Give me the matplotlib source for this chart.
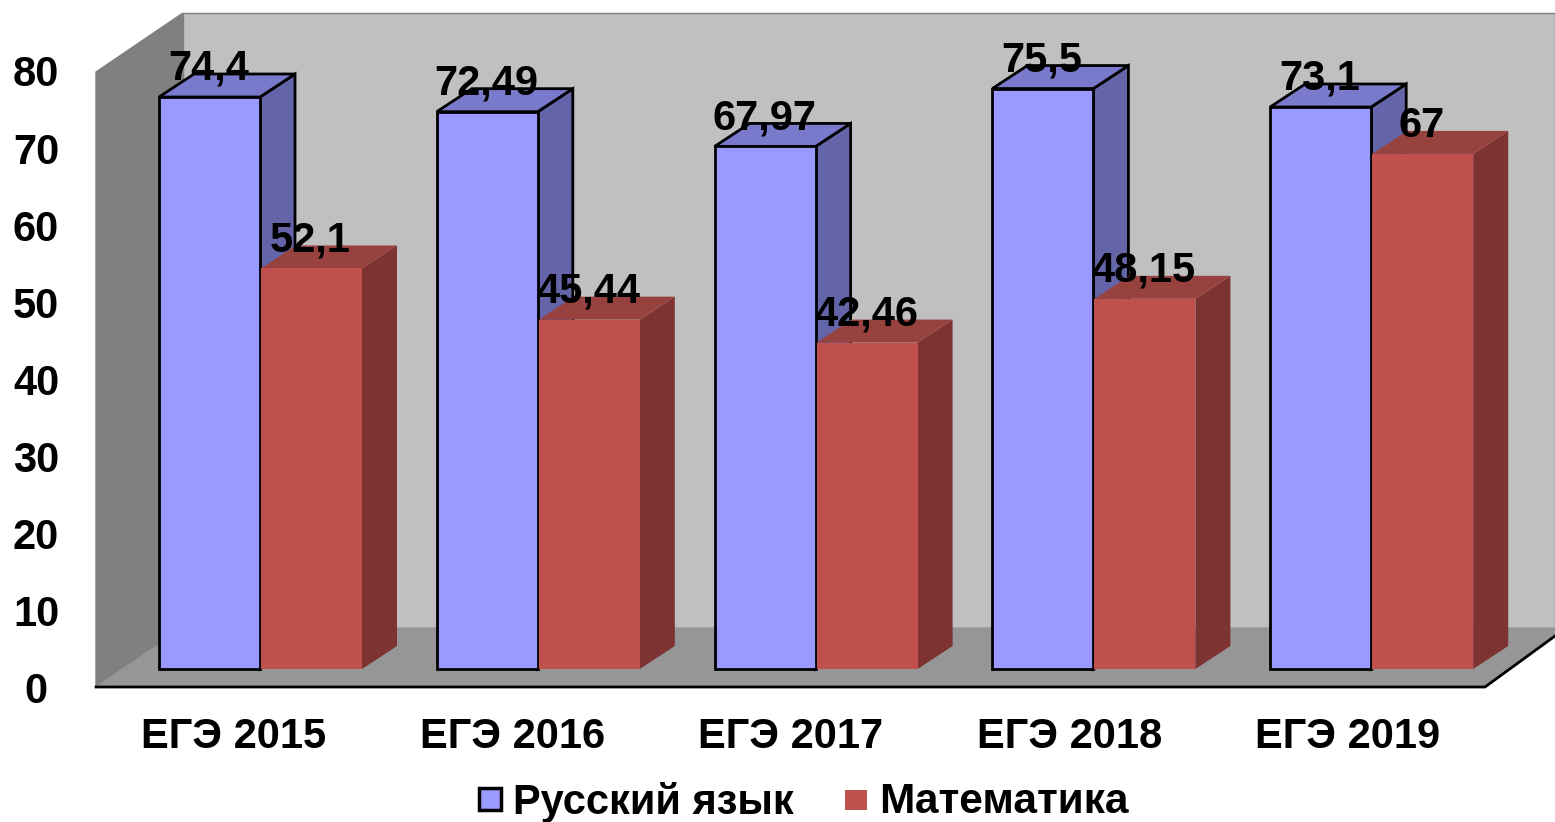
import matplotlib
matplotlib.use("Agg")
import matplotlib.pyplot as plt
from matplotlib.patches import Polygon, Rectangle

categories = ["ЕГЭ 2015", "ЕГЭ 2016", "ЕГЭ 2017", "ЕГЭ 2018", "ЕГЭ 2019"]
russian = [74.4, 72.49, 67.97, 75.5, 73.1]
math_vals = [52.1, 45.44, 42.46, 48.15, 67]
russian_labels = ["74,4", "72,49", "67,97", "75,5", "73,1"]
math_labels = ["52,1", "45,44", "42,46", "48,15", "67"]
yticks = [0, 10, 20, 30, 40, 50, 60, 70, 80]

W, H = 1555, 822
plt.rcParams["font.family"] = ["Liberation Sans", "DejaVu Sans"]
fig = plt.figure(figsize=(W / 100, H / 100), dpi=100)
ax = fig.add_axes([0, 0, 1, 1])
ax.set_xlim(0, W)
ax.set_ylim(H, 0)
ax.axis("off")

# pixel scale: value -> y of the front plane
y0_front = 669
per_unit = (669 - 97) / 74.4
dx, dy = 35, 23
FS = 30


def yv(v):
    return y0_front - v * per_unit


# back wall, side wall, floor
ax.add_patch(Polygon([[183, 13], [1555, 13], [1555, 630], [183, 630]], fc="#c0c0c0", ec="#808080", lw=1))
ax.add_patch(Polygon([[96, 72], [183, 13], [183, 630], [96, 687]], fc="#808080", ec="#808080"))
ax.add_patch(Polygon([[96, 687], [183, 628], [1555, 628], [1555, 635], [1485, 687]], fc="#969696", ec="#969696"))
ax.plot([96, 1485, 1555], [687, 687, 636], color="black", lw=2)

# y ticks
for t in yticks:
    ax.text(36, 691.5 - t * 7.7, str(t), ha="center", va="center", fontsize=FS, fontweight="bold")


def bar3d(x, w, v, front, top, side, edge):
    y = yv(v)
    lw = 2 if edge else 0
    ec = "black" if edge else "none"
    ax.add_patch(Polygon([[x + w, y], [x + w + dx, y - dy], [x + w + dx, y0_front - dy], [x + w, y0_front]],
                         fc=side, ec=ec, lw=lw))
    ax.add_patch(Polygon([[x, y], [x + dx, y - dy], [x + w + dx, y - dy], [x + w, y]], fc=top, ec=ec, lw=lw))
    ax.add_patch(Rectangle((x, y), w, y0_front - y, fc=front, ec=ec, lw=lw))


# bars
w = 101
step = 277.8
for i in range(len(categories)):
    x1 = 159 + i * step
    x2 = x1 + w + 1
    bar3d(x1, w, russian[i], "#9999ff", "#7a7acc", "#6464a8", True)
    bar3d(x2, w, math_vals[i], "#c0504d", "#984240", "#7d3331", False)

# value labels
for i in range(len(categories)):
    x1 = 159 + i * step
    x2 = x1 + w + 1
    ax.text(x1 + w / 2 - 1, yv(russian[i]) - 28, russian_labels[i], ha="center", va="center",
            fontsize=FS, fontweight="bold", zorder=5)
    ax.text(x2 + w / 2 - 1, yv(math_vals[i]) - 28, math_labels[i], ha="center", va="center",
            fontsize=FS, fontweight="bold", zorder=5)
    ax.text(234 + i * 278.5, 737, categories[i], ha="center", va="center", fontsize=FS, fontweight="bold")

# legend
ax.add_patch(Rectangle((479, 788), 22, 22, fc="#9999ff", ec="black", lw=2.5))
ax.text(513, 802, "Русский язык", ha="left", va="center", fontsize=FS, fontweight="bold")
ax.add_patch(Rectangle((845, 790), 22, 20, fc="#c0504d", ec="none"))
ax.text(879, 802, "Математика", ha="left", va="center", fontsize=30.5, fontweight="bold")

fig.savefig("out.png", dpi=100)
